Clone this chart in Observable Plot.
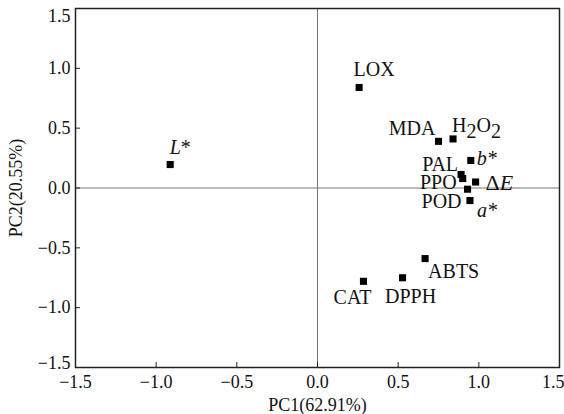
<!DOCTYPE html>
<html><head><meta charset="utf-8">
<script src="https://cdn.jsdelivr.net/npm/d3@7"></script>
<script src="https://cdn.jsdelivr.net/npm/@observablehq/plot@0.6"></script>
<style>
html,body{margin:0;padding:0;background:#fff}
#chart svg{display:block}
</style>
</head><body><div id="chart"></div>
<script>
// ---- data ----
const names = ["L*","LOX","MDA","H2O2","b*","PAL","PPO","ΔE","POD","a*","ABTS","DPPH","CAT"];
const pc1 = [-0.913, 0.258, 0.75, 0.84, 0.95, 0.89, 0.90, 0.98, 0.93, 0.945, 0.667, 0.527, 0.285];
const pc2 = [0.196, 0.84, 0.39, 0.41, 0.23, 0.113, 0.079, 0.05, -0.01, -0.105, -0.59, -0.75, -0.78];
const axisTicks = [-1.5, -1.0, -0.5, 0.0, 0.5, 1.0, 1.5];
const xLabel = "PC1(62.91%)";
const yLabel = "PC2(20.55%)";

// ---- label placement (pixel offsets from each point) ----
const placement = {
  "L*":   {dx: 10, dy: -17, anchor: "middle"},
  "LOX":  {dx: 15, dy: -18, anchor: "middle"},
  "MDA":  {dx: -3, dy: -13, anchor: "end"},
  "H2O2": {dx: -1, dy: -13, anchor: "start"},
  "b*":   {dx: 6,  dy: -2,  anchor: "start"},
  "PAL":  {dx: -3, dy: -10, anchor: "end"},
  "PPO":  {dx: -6, dy: 4,   anchor: "end"},
  "ΔE":   {dx: 10, dy: 1,   anchor: "start", size: 22},
  "POD":  {dx: -6, dy: 12,  anchor: "end"},
  "a*":   {dx: 7,  dy: 10,  anchor: "start"},
  "ABTS": {dx: 3,  dy: 13,  anchor: "start"},
  "DPPH": {dx: 8,  dy: 19,  anchor: "middle"},
  "CAT":  {dx: -11, dy: 16, anchor: "middle"}
};

const rows = names.map((name, i) => ({name, pc1: pc1[i], pc2: pc2[i]}));
const fmt = d3.format(".1f");
const first = axisTicks[0], last = axisTicks[axisTicks.length - 1];
const inner = axisTicks.slice(1, -1);
const axisFont = 18;

const labelMarks = rows.map(r => {
  const p = placement[r.name];
  return Plot.text([r], {
    x: "pc1", y: "pc2", text: "name",
    dx: p.dx, dy: p.dy, textAnchor: p.anchor,
    fontSize: p.size || 20, fill: "#111"
  });
});

const plot = Plot.plot({
  width: 564,
  height: 414,
  marginLeft: 75,
  marginRight: 5,
  marginTop: 8,
  marginBottom: 47,
  x: {domain: [first, last]},
  y: {domain: [first, last]},
  style: {fontFamily: "'Liberation Serif','Times New Roman',serif", fontSize: axisFont + "px", color: "#111", background: "#fff"},
  marks: [
    Plot.ruleX([0], {stroke: "#777", strokeWidth: 1}),
    Plot.ruleY([0], {stroke: "#777", strokeWidth: 1}),
    Plot.frame({stroke: "#222", strokeWidth: 1.5}),
    // x axis
    Plot.axisX(axisTicks.slice(0, -1), {anchor: "bottom", tickSize: -5, tickPadding: 13, tickFormat: fmt,
      label: xLabel, labelAnchor: "center", labelArrow: "none", labelOffset: 43, fontSize: axisFont, stroke: "#222"}),
    Plot.axisX([last], {anchor: "bottom", tickSize: 0, tickPadding: 8, tickFormat: fmt,
      textAnchor: "end", dx: 5, label: null, fontSize: axisFont}),
    // y axis
    Plot.axisY(inner, {anchor: "left", tickSize: -5, tickPadding: 10, tickFormat: fmt,
      label: yLabel, labelAnchor: "center", labelArrow: "none", labelOffset: 66, fontSize: axisFont, stroke: "#222"}),
    Plot.axisY([last], {anchor: "left", tickSize: 0, tickPadding: 5, tickFormat: fmt, dy: 8, label: null, fontSize: axisFont}),
    Plot.axisY([first], {anchor: "left", tickSize: 0, tickPadding: 5, tickFormat: fmt, dy: -4, label: null, fontSize: axisFont}),
    Plot.dot(rows, {x: "pc1", y: "pc2", symbol: "square", r: 4, fill: "#000"}),
    ...labelMarks
  ]
});

// rich text (italics / subscripts) for some labels
const rich = {
  "L*": [["L", "italic"], ["*", null]],
  "b*": [["b*", "italic"]],
  "a*": [["a*", "italic"]],
  "ΔE": [["Δ", null], ["E", "italic"]],
  "H2O2": [["H", null], ["2", "sub"], ["O", "unsub"], ["2", "sub"]]
};
const ns = "http://www.w3.org/2000/svg";
plot.querySelectorAll("text").forEach(t => {
  const s = t.textContent;
  if (!rich[s] || t.closest("[aria-label$='axis']")) return;
  t.textContent = "";
  rich[s].forEach(([str, kind]) => {
    const ts = document.createElementNS(ns, "tspan");
    ts.textContent = str;
    if (kind === "italic") ts.setAttribute("font-style", "italic");
    if (kind === "sub") ts.setAttribute("dy", "0.3em");
    if (kind === "unsub") ts.setAttribute("dy", "-0.3em");
    t.appendChild(ts);
  });
});

document.getElementById("chart").appendChild(plot);
</script>
</body></html>
